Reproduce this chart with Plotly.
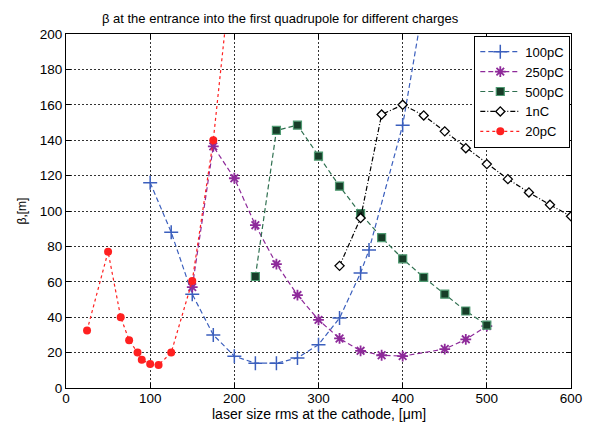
import plotly.graph_objects as go

# ---- data ----
x_100pC = [100, 125, 150, 175, 200, 225, 250, 275, 300, 325, 350, 360, 400, 425]
y_100pC = [116, 88, 53, 30, 18, 14, 14, 17, 24.5, 39.5, 65, 78, 148.5, 218]

x_250pC = [150, 175, 200, 225, 250, 275, 300, 325, 350, 375, 400, 450, 475, 500]
y_250pC = [57, 136.5, 118.5, 92, 70, 52.5, 38.5, 28, 21, 18.5, 18, 22, 27.5, 35]

x_500pC = [225, 250, 275, 300, 325, 350, 375, 400, 425, 450, 475, 500]
y_500pC = [63, 145.5, 148.5, 131, 114, 98.5, 85, 73, 62.5, 53, 43.5, 35.5]

x_1nC = [325, 350, 375, 400, 425, 450, 475, 500, 525, 550, 575, 600]
y_1nC = [69, 96, 154.5, 160, 154, 145, 135.5, 126.5, 118, 110.5, 103.5, 97]

x_20pC = [25, 50, 65, 75, 85, 90, 100, 110, 125, 150, 175, 200]
y_20pC = [32.5, 77, 40, 27, 20, 16, 13.5, 13, 20, 60.5, 140, 252]

x_ticks = [0, 100, 200, 300, 400, 500, 600]
y_ticks = [0, 20, 40, 60, 80, 100, 120, 140, 160, 180, 200]

fig = go.Figure()

fig.add_trace(go.Scatter(
    x=x_100pC, y=y_100pC, name="100pC", mode="lines+markers",
    line=dict(color="#3b5fbd", width=1.2, dash="5px,3px"),
    marker=dict(symbol="cross-thin", size=10, line=dict(color="#3b5fbd", width=1.5)),
))
fig.add_trace(go.Scatter(
    x=x_250pC, y=y_250pC, name="250pC", mode="lines+markers",
    line=dict(color="#8e2a9a", width=1.2, dash="5px,3px"),
    marker=dict(symbol="asterisk-open", size=9, line=dict(color="#8e2a9a", width=1.8)),
))
fig.add_trace(go.Scatter(
    x=x_500pC, y=y_500pC, name="500pC", mode="lines+markers",
    line=dict(color="#2f7050", width=1.2, dash="5px,3px"),
    marker=dict(symbol="square", size=8, color="#173d28", line=dict(color="#4f9a72", width=1.2)),
))
fig.add_trace(go.Scatter(
    x=x_1nC, y=y_1nC, name="1nC", mode="lines+markers",
    line=dict(color="black", width=1.2, dash="5px,2px,1px,2px"),
    marker=dict(symbol="diamond", size=7, color="white", line=dict(color="black", width=1.3)),
))
fig.add_trace(go.Scatter(
    x=x_20pC, y=y_20pC, name="20pC", mode="lines+markers",
    line=dict(color="#ff2020", width=1.2, dash="dot"),
    marker=dict(symbol="circle", size=8, color="#ff2020"),
))

axis_common = dict(
    showline=True, linecolor="black", linewidth=1, mirror="ticks",
    ticks="inside", ticklen=5, tickcolor="black",
    showgrid=True, gridcolor="#333333", gridwidth=1, griddash="2px,2px",
    zeroline=False, automargin=False,
    tickfont=dict(family="Liberation Sans, Arial", size=13.5, color="black"),
)

fig.update_layout(
    width=583, height=414,
    margin=dict(l=58, r=20, t=26, b=34),
    paper_bgcolor="white", plot_bgcolor="white",
    title=dict(text="β at the entrance into the first quadrupole for different charges",
               x=0.424, xref="paper", xanchor="center", y=0.975, yref="container", yanchor="middle",
               font=dict(family="Liberation Sans, Arial", size=13, color="black")),
    xaxis=dict(range=[0, 600], tickvals=x_ticks, ticklabelstandoff=-2, **axis_common),
    yaxis=dict(range=[0, 200], tickvals=y_ticks,
               title=dict(text="β,[m]", standoff=10,
                          font=dict(family="Liberation Sans, Arial", size=12, color="black")),
               **axis_common),
    legend=dict(x=0.9986, xanchor="right", y=0.995, yanchor="top",
                bgcolor="white", bordercolor="black", borderwidth=1,
                font=dict(family="Liberation Sans, Arial", size=13, color="black"),
                tracegroupgap=0, itemwidth=40),
    showlegend=True,
    annotations=[dict(text="laser size rms at the cathode, [μm]", showarrow=False,
                      xref="paper", yref="paper", x=0.5, y=-0.0975,
                      xanchor="center", yanchor="bottom", borderpad=0,
                      font=dict(family="Liberation Sans, Arial", size=14, color="black"))],
)

fig.write_html("out.html")
